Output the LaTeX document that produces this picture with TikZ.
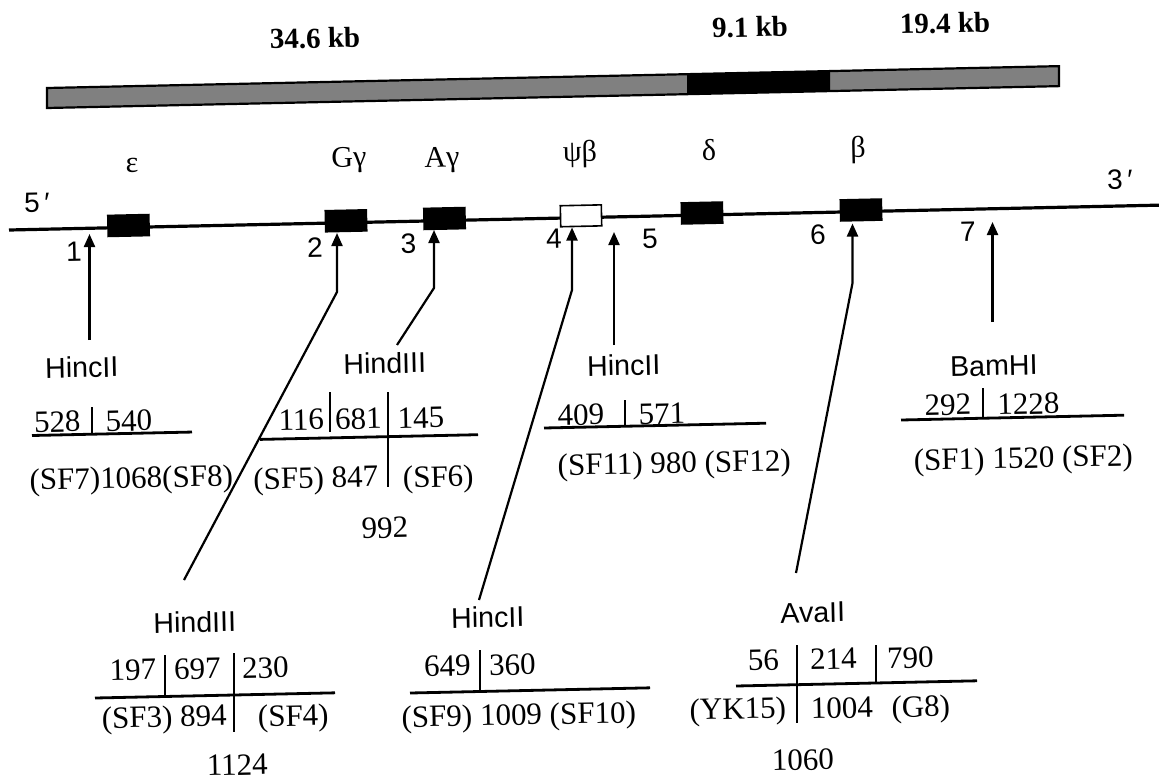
\documentclass[tikz,border=0pt]{standalone}
\usepackage{fontspec}
\setmainfont{Liberation Serif}
\newfontfamily\lsans{Liberation Sans}
\usetikzlibrary{arrows.meta}
\def\tl{0.0216}
\begin{document}
\begin{tikzpicture}[x=0.5pt,y=-0.5pt,
  txt/.style={inner sep=0pt, outer sep=0pt, rotate=1.24, font=\fontsize{15.5}{18}\selectfont, anchor=base},
  enz/.style={inner sep=0pt, outer sep=0pt, rotate=1.24, font={\lsans\fontsize{14.3}{17}\selectfont}, anchor=base},
  num/.style={inner sep=0pt, outer sep=0pt, rotate=1.24, font={\lsans\fontsize{14}{17}\selectfont}},
  greek/.style={inner sep=0pt, outer sep=0pt, rotate=1.24, font=\fontsize{15}{18}\selectfont},
  kb/.style={inner sep=0pt, outer sep=0pt, rotate=1.24, font={\bfseries\fontsize{14.5}{17}\selectfont}},
  gene/.style={draw=black, line width=0.8pt, fill=black, minimum width=20.5pt, minimum height=10.5pt, inner sep=0pt, rotate=1.24},
  pseudo/.style={gene, fill=white},
  arr/.style={line width=1.1pt, -{Triangle[length=6.5pt,width=5.5pt]}},
  tab/.style={line width=1.4pt},
  dna/.style={line width=1.6pt},
]
\useasboundingbox (0,0) rectangle (1159,781);
% top scale bar
\fill[black!50] (47,88) -- (1059,{88-\tl*1012}) -- (1059,{108-\tl*1012}) -- (47,108) -- cycle;
\fill[black] (687,{88-\tl*640}) -- (830,{88-\tl*783}) -- (830,{108-\tl*783}) -- (687,{108-\tl*640}) -- cycle;
\draw[line width=1.1pt] (47,88) -- (1059,{88-\tl*1012}) -- (1059,{108-\tl*1012}) -- (47,108) -- cycle;
\node[kb] (kbA) at (315,38) {34.6 kb};
\node[kb] (kbB) at (750,27) {9.1 kb};
\node[kb] (kbC) at (945,23) {19.4 kb};
% DNA line
\coordinate (g5) at (9,230);
\coordinate (g3) at (1159,{230-\tl*1150});
\draw[dna] (g5) -- (g3);
\node[num] (p5) at (37,203) {5\,′};
\node[num] (p3) at (1120,180) {3\,′};
% genes
\node[gene] (eps) at (128.5,225.5) {};
\node[gene] (Gg) at (346,220.8) {};
\node[gene] (Ag) at (444.5,218.5) {};
\node[pseudo] (psb) at (581,215.8) {};
\node[gene] (del) at (702,213) {};
\node[gene] (bet) at (861,210) {};
\node[greek] (leps) at (132,165) {ε};
\node[greek] (lGg) at (349,160) {Gγ};
\node[greek] (lAg) at (442,160) {Aγ};
\node[greek] (lpsb) at (580,154) {ψβ};
\node[greek] (ldel) at (709,150) {δ};
\node[greek] (lbet) at (858,150) {β};
% site numbers
\node[num] (n1) at (74,252) {1};
\node[num] (n2) at (315,247.5) {2};
\node[num] (n3) at (408.5,244) {3};
\node[num] (n4) at (554,239) {4};
\node[num] (n5) at (650,239) {5};
\node[num] (n6) at (818,235) {6};
\node[num] (n7) at (968,232) {7};
% arrows
\coordinate (t1) at (89.5,234); \coordinate (b1) at (89.5,340);
\coordinate (t2) at (337,233); \coordinate (k2) at (337,292); \coordinate (b2) at (184,580);
\coordinate (t3) at (434,230); \coordinate (k3) at (434,288); \coordinate (b3) at (397,345);
\coordinate (t4) at (572,227.5); \coordinate (k4) at (572,290); \coordinate (b4) at (479,600);
\coordinate (t5) at (614,232); \coordinate (b5) at (614,345);
\coordinate (t6) at (852.5,223.5); \coordinate (k6) at (852.5,283); \coordinate (b6) at (796,573);
\coordinate (t7) at (992.5,222); \coordinate (b7) at (992.5,322);
\draw[arr] (b1) -- (t1);
\draw[arr] (b2) -- (k2) -- (t2);
\draw[arr] (b3) -- (k3) -- (t3);
\draw[arr] (b4) -- (k4) -- (t4);
\draw[arr] (b5) -- (t5);
\draw[arr] (b6) -- (k6) -- (t6);
\draw[arr] (b7) -- (t7);
% site 1 : HincII
\node[enz] (e1) at (82,377.5) {HincII};
\node[txt] (e1a) at (57.5,432) {528};
\node[txt] (e1b) at (129,431) {540};
\draw[tab] (92,407) -- (92,434);
\draw[tab] (32,435.5) -- ++(160,{-\tl*160});
\node[txt] (e1c) at (131.5,488) {(SF7)1068(SF8)};
% site 3 : HindIII
\node[enz] (e3) at (385,373.5) {HindIII};
\node[txt] (e3a) at (301.5,430) {116};
\node[txt] (e3b) at (358.5,429) {681};
\node[txt] (e3c) at (421,428) {145};
\draw[tab] (330,392) -- (330,432);
\draw[tab] (388,392) -- (388,487);
\draw[tab] (260,439.4) -- ++(218,{-\tl*218});
\node[txt] (e3d) at (316,488) {(SF5) 847};
\node[txt] (e3e) at (438.5,487) {(SF6)};
\node[txt] (e3f) at (385,538) {992};
% site 5 : HincII
\node[enz] (e5) at (624,375.5) {HincII};
\node[txt] (e5a) at (581,425) {409};
\node[txt] (e5b) at (662,424) {571};
\draw[tab] (625,400) -- (625,427);
\draw[tab] (544,428) -- ++(222,{-\tl*222});
\node[txt] (e5c) at (674.5,473) {(SF11) 980 (SF12)};
% site 7 : BamHI
\node[enz] (e7) at (994,375.5) {BamHI};
\node[txt] (e7a) at (948,415) {292};
\node[txt] (e7b) at (1028.5,414) {1228};
\draw[tab] (983,388) -- (983,418);
\draw[tab] (901,420) -- ++(223,{-\tl*223});
\node[txt] (e7c) at (1023.5,468) {(SF1) 1520 (SF2)};
% site 2 : HindIII
\node[enz] (e2) at (195,632.5) {HindIII};
\node[txt] (e2a) at (133,680) {197};
\node[txt] (e2b) at (197.5,679) {697};
\node[txt] (e2c) at (265.5,678) {230};
\draw[tab] (165,655) -- (165,697);
\draw[tab] (234,653) -- (234,732);
\draw[tab] (95,698) -- ++(240,{-\tl*240});
\node[txt] (e2d) at (164.5,727) {(SF3) 894};
\node[txt] (e2e) at (293.5,726) {(SF4)};
\node[txt] (e2f) at (237.5,775) {1124};
% site 4 : HincII
\node[enz] (e4) at (488,627.5) {HincII};
\node[txt] (e4a) at (447.5,676) {649};
\node[txt] (e4b) at (512.5,675) {360};
\draw[tab] (480,650) -- (480,692);
\draw[tab] (410,693) -- ++(240,{-\tl*240});
\node[txt] (e4c) at (519,725) {(SF9) 1009 (SF10)};
% site 6 : AvaII
\node[enz] (e6) at (813,622.5) {AvaII};
\node[txt] (e6a) at (763.5,670) {56};
\node[txt] (e6b) at (833.5,669) {214};
\node[txt] (e6c) at (910.5,668) {790};
\draw[tab] (797,645) -- (797,723);
\draw[tab] (876,645) -- (876,682);
\draw[tab] (736,686) -- ++(241,{-\tl*241});
\node[txt] (e6d) at (738,719) {(YK15)};
\node[txt] (e6e) at (842,718) {1004};
\node[txt] (e6f) at (921,717) {(G8)};
\node[txt] (e6g) at (803,770) {1060};
\end{tikzpicture}
\end{document}
